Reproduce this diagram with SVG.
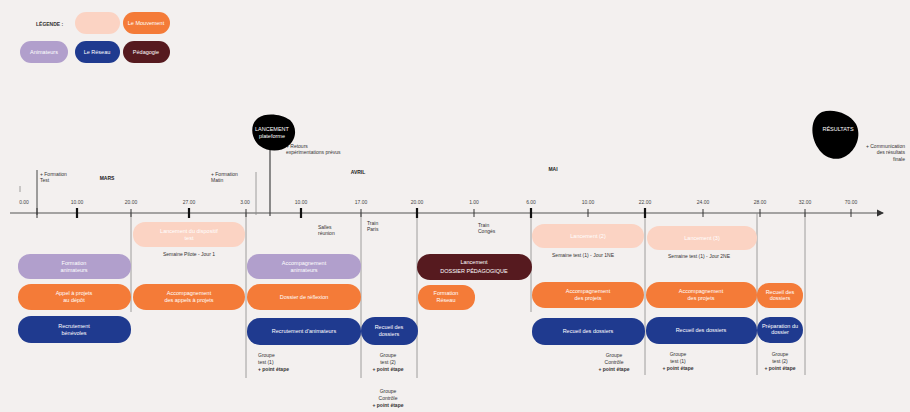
<svg xmlns="http://www.w3.org/2000/svg" width="910" height="412" viewBox="0 0 910 412">
<defs>
<style>
text{font-family:"Liberation Sans",Arial,sans-serif;}
.pill text,.pt{fill:#fff;font-size:5.5px;text-anchor:middle;}
.lbl{fill:#333;font-size:5px;}
.mid{text-anchor:middle;}
.tick{fill:#444;font-size:5px;text-anchor:middle;}
.peach{fill:#fbd3c3;}
.orange{fill:#f47b38;}
.purple{fill:#b19fcc;}
.navy{fill:#1f3a8f;}
.maroon{fill:#561a1f;}
.vl{stroke:#888;stroke-width:0.8;fill:none;}
.tk{stroke:#333;stroke-width:1;}
.tkb{stroke:#111;stroke-width:2.2;}
</style>
<marker id="arr" markerWidth="6" markerHeight="6" refX="5" refY="3" orient="auto"><path d="M0,0 L6,3 L0,6 Z" fill="#333"/></marker>
</defs>
<rect width="910" height="412" fill="#f3f0ef"/>

<g id="legend">
<text x="36" y="26" font-size="5px" font-weight="bold" fill="#333">LÉGENDE :</text>
<rect class="peach" x="75" y="12" width="45" height="22" rx="11"/>
<rect class="orange" x="123" y="12" width="47" height="22" rx="11"/><text class="pt" x="146" y="25">Le Mouvement</text>
<rect class="purple" x="20" y="41" width="48" height="22" rx="11"/><text class="pt" x="44" y="54">Animateurs</text>
<rect class="navy" x="75" y="41" width="45" height="22" rx="11"/><text class="pt" x="97" y="54">Le Réseau</text>
<rect class="maroon" x="123" y="41" width="47" height="22" rx="11"/><text class="pt" x="146" y="54">Pédagogie</text>
</g>

<g id="connectors">
<line x1="10" y1="213" x2="883" y2="213" stroke="#555" stroke-width="1.2" marker-end="url(#arr)"/>
<line x1="37" y1="170" x2="37" y2="215" stroke="#333" stroke-width="0.9"/>
<line class="vl" x1="256" y1="172" x2="256" y2="215"/>
<line x1="270" y1="145" x2="270" y2="216" stroke="#444" stroke-width="1.2"/>
<line class="vl" x1="131" y1="213" x2="131" y2="312"/>
<line class="vl" x1="246" y1="213" x2="246" y2="378"/>
<line class="vl" x1="361" y1="213" x2="361" y2="378"/>
<line class="vl" x1="417" y1="213" x2="417" y2="378"/>
<line class="vl" x1="531" y1="213" x2="531" y2="312"/>
<line class="vl" x1="645" y1="213" x2="645" y2="375"/>
<line class="vl" x1="757" y1="213" x2="757" y2="375"/>
<line class="vl" x1="805" y1="213" x2="805" y2="375"/>
<line class="vl" x1="20" y1="186" x2="20" y2="192"/>
<g>
<line class="tk" x1="37" y1="208" x2="37" y2="218"/>
<line class="tkb" x1="77" y1="208" x2="77" y2="218"/>
<line class="tk" x1="131" y1="209" x2="131" y2="217"/>
<line class="tkb" x1="189" y1="208" x2="189" y2="218"/>
<line class="tk" x1="246" y1="209" x2="246" y2="217"/>
<line class="tkb" x1="301" y1="208" x2="301" y2="218"/>
<line class="tk" x1="361" y1="209" x2="361" y2="217"/>
<line class="tkb" x1="417" y1="208" x2="417" y2="218"/>
<line class="tk" x1="474" y1="209" x2="474" y2="217"/>
<line class="tkb" x1="531" y1="208" x2="531" y2="218"/>
<line class="tk" x1="588" y1="209" x2="588" y2="217"/>
<line class="tkb" x1="645" y1="208" x2="645" y2="218"/>
<line class="tk" x1="703" y1="209" x2="703" y2="217"/>
<line class="tk" x1="760" y1="209" x2="760" y2="217"/>
<line class="tk" x1="805" y1="209" x2="805" y2="217"/>
<line class="tk" x1="851" y1="209" x2="851" y2="217"/>
</g>
</g>

<g id="axis-labels">
<text class="tick" x="24" y="204">0.00</text>
<text class="tick" x="77" y="204">10.00</text>
<text class="tick" x="131" y="204">20.00</text>
<text class="tick" x="189" y="204">27.00</text>
<text class="tick" x="245" y="204">3.00</text>
<text class="tick" x="301" y="204">10.00</text>
<text class="tick" x="361" y="204">17.00</text>
<text class="tick" x="417" y="204">20.00</text>
<text class="tick" x="474" y="204">1.00</text>
<text class="tick" x="531" y="204">6.00</text>
<text class="tick" x="588" y="204">10.00</text>
<text class="tick" x="645" y="204">22.00</text>
<text class="tick" x="703" y="204">24.00</text>
<text class="tick" x="760" y="204">28.00</text>
<text class="tick" x="805" y="204">32.00</text>
<text class="tick" x="851" y="204">70.00</text>
<text x="107" y="180" font-size="5px" font-weight="bold" fill="#222" text-anchor="middle">MARS</text>
<text x="358" y="174" font-size="5px" font-weight="bold" fill="#222" text-anchor="middle">AVRIL</text>
<text x="553" y="171" font-size="5px" font-weight="bold" fill="#222" text-anchor="middle">MAI</text>
<text class="lbl" x="40" y="176">+ Formation</text><text class="lbl" x="40" y="182">Test</text>
<text class="lbl" x="211" y="176">+ Formation</text><text class="lbl" x="211" y="182">Matin</text>
<text class="lbl" x="318" y="229">Salles</text><text class="lbl" x="318" y="235">réunion</text>
<text class="lbl" x="367" y="225">Train</text><text class="lbl" x="367" y="231">Paris</text>
<text class="lbl" x="478" y="227">Train</text><text class="lbl" x="478" y="233">Congés</text>
<text class="lbl" x="286" y="148">+ Retours</text><text class="lbl" x="286" y="154">expérimentations prévus</text>
<text class="lbl" x="905" y="148" text-anchor="end">+ Communication</text><text class="lbl" x="905" y="154" text-anchor="end">des résultats</text><text class="lbl" x="905" y="161" text-anchor="end" font-size="4px">finale</text>
</g>

<g id="blob1">
<path d="M258,118 C266,112 282,114 290,120 C298,128 296,140 288,146 C281,152 268,152 260,146 C250,138 250,124 258,118 Z" fill="#000"/>
<text class="pt" x="272" y="131" font-size="4.5px">LANCEMENT</text><text class="pt" x="272" y="138" font-size="4.5px">plateforme</text>
</g>
<g id="blob2">
<path d="M822,112 C834,108 850,114 856,124 C862,136 856,150 846,156 C836,162 824,158 818,148 C810,136 810,118 822,112 Z" fill="#000"/>
<text class="pt" x="838" y="131" font-size="4.5px">RÉSULTATS</text>
</g>

<g id="row-peach" class="pill">
<g id="n-p1"><rect class="peach" x="133" y="222" width="112" height="25" rx="12"/><text x="189" y="233">Lancement du dispositif</text><text x="189" y="240">test</text></g>
<g id="n-p2"><rect class="peach" x="532" y="224" width="112" height="24" rx="12"/><text x="588" y="238">Lancement (2)</text></g>
<g id="n-p3"><rect class="peach" x="647" y="226" width="110" height="24" rx="12"/><text x="702" y="240">Lancement (3)</text></g>
</g>
<g id="sub-labels">
<text class="lbl mid" x="189" y="256">Semaine Pilote - Jour 1</text>
<text class="lbl mid" x="583" y="257" font-size="4.5px">Semaine test (1) - Jour 1NE</text>
<text class="lbl mid" x="699" y="258" font-size="4.5px">Semaine test (1) - Jour 2NE</text>
</g>

<g id="row-purple" class="pill">
<g id="n-u1"><rect class="purple" x="18" y="254" width="113" height="25" rx="12"/><text x="74" y="265">Formation</text><text x="74" y="272">animateurs</text></g>
<g id="n-u2"><rect class="purple" x="247" y="254" width="114" height="25" rx="12"/><text x="304" y="265">Accompagnement</text><text x="304" y="272">animateurs</text></g>
<g id="n-m1"><rect class="maroon" x="417" y="254" width="115" height="26" rx="13"/><text x="474" y="264" font-size="4.5px">Lancement</text><text x="474" y="273" font-size="6px">DOSSIER PÉDAGOGIQUE</text></g>
</g>

<g id="row-orange" class="pill">
<g id="n-o1"><rect class="orange" x="18" y="284" width="113" height="26" rx="13"/><text x="74" y="295">Appel à projets</text><text x="74" y="302">au dépôt</text></g>
<g id="n-o2"><rect class="orange" x="133" y="284" width="112" height="26" rx="13"/><text x="189" y="295">Accompagnement</text><text x="189" y="302">des appels à projets</text></g>
<g id="n-o3"><rect class="orange" x="247" y="284" width="114" height="26" rx="13"/><text x="304" y="299" font-size="6px">Dossier de réflexion</text></g>
<g id="n-o4"><rect class="orange" x="418" y="285" width="57" height="25" rx="12"/><text x="446" y="295" font-size="4.5px">Formation</text><text x="446" y="302" font-size="4.5px">Réseau</text></g>
<g id="n-o5"><rect class="orange" x="532" y="282" width="112" height="26" rx="13"/><text x="588" y="293">Accompagnement</text><text x="588" y="300">des projets</text></g>
<g id="n-o6"><rect class="orange" x="646" y="282" width="111" height="26" rx="13"/><text x="701" y="293">Accompagnement</text><text x="701" y="300">des projets</text></g>
<g id="n-o7"><rect class="orange" x="757" y="283" width="46" height="25" rx="12"/><text x="780" y="294" font-size="4.5px">Recueil des</text><text x="780" y="300" font-size="4.5px">dossiers</text></g>
</g>

<g id="row-navy" class="pill">
<g id="n-n1"><rect class="navy" x="18" y="316" width="113" height="27" rx="13"/><text x="74" y="328">Recrutement</text><text x="74" y="335">bénévoles</text></g>
<g id="n-n2"><rect class="navy" x="247" y="318" width="114" height="27" rx="13"/><text x="304" y="333" font-size="5px">Recrutement d'animateurs</text></g>
<g id="n-n3"><rect class="navy" x="361" y="317" width="57" height="28" rx="14"/><text x="389" y="329">Recueil des</text><text x="389" y="336">dossiers</text></g>
<g id="n-n4"><rect class="navy" x="532" y="318" width="113" height="27" rx="13"/><text x="588" y="333" font-size="6px">Recueil des dossiers</text></g>
<g id="n-n5"><rect class="navy" x="646" y="317" width="111" height="27" rx="13"/><text x="701" y="332" font-size="6px">Recueil des dossiers</text></g>
<g id="n-n6"><rect class="navy" x="757" y="317" width="46" height="26" rx="13"/><text x="780" y="328" font-size="4.5px">Préparation du</text><text x="780" y="334" font-size="4.5px">dossier</text></g>
</g>

<g id="bottom-notes">
<text class="lbl" x="258" y="357" font-size="5.5px">Groupe</text><text class="lbl" x="258" y="364" font-size="5.5px">test (1)</text><text class="lbl" x="258" y="371" font-size="4.5px" font-weight="bold">+ point étape</text>
<text class="lbl mid" x="388" y="357" font-size="5.5px">Groupe</text><text class="lbl mid" x="388" y="364" font-size="5.5px">test (2)</text><text class="lbl mid" x="388" y="371" font-size="4.5px" font-weight="bold">+ point étape</text>
<text class="lbl mid" x="388" y="393" font-size="5.5px">Groupe</text><text class="lbl mid" x="388" y="400" font-size="5.5px">Contrôle</text><text class="lbl mid" x="388" y="407" font-size="4.5px" font-weight="bold">+ point étape</text>
<text class="lbl mid" x="614" y="357" font-size="5.5px">Groupe</text><text class="lbl mid" x="614" y="364" font-size="5.5px">Contrôle</text><text class="lbl mid" x="614" y="371" font-size="4.5px" font-weight="bold">+ point étape</text>
<text class="lbl mid" x="678" y="356" font-size="5.5px">Groupe</text><text class="lbl mid" x="678" y="363" font-size="5.5px">test (1)</text><text class="lbl mid" x="678" y="370" font-size="4.5px" font-weight="bold">+ point étape</text>
<text class="lbl mid" x="780" y="356" font-size="5.5px">Groupe</text><text class="lbl mid" x="780" y="363" font-size="5.5px">test (2)</text><text class="lbl mid" x="780" y="370" font-size="4.5px" font-weight="bold">+ point étape</text>
</g>
</svg>
